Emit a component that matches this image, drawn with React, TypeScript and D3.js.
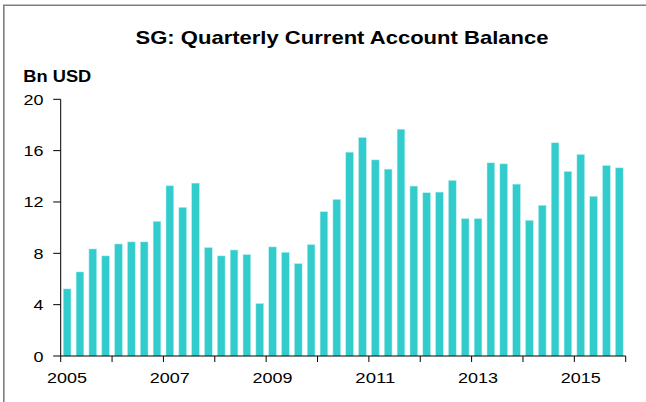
import React from "react";
import * as d3 from "d3";

const years = [2005, 2006, 2007, 2008, 2009, 2010, 2011, 2012, 2013, 2014, 2015];
const quarters = ["Q1", "Q2", "Q3", "Q4"];
const values = [
  5.23, 6.55, 8.34, 7.8,
  8.73, 8.89, 8.89, 10.49,
  13.26, 11.58, 13.47, 8.45,
  7.8, 8.26, 7.9, 4.09,
  8.5, 8.08, 7.2, 8.68,
  11.24, 12.2, 15.88, 17.02,
  15.28, 14.56, 17.67, 13.24,
  12.72, 12.77, 13.68, 10.7,
  10.7, 15.05, 14.97, 13.39,
  10.57, 11.74, 16.61, 14.38,
  15.7, 12.44, 14.84, 14.66,
];
const yTicks = [0, 4, 8, 12, 16, 20];
const xLabelYears = [2005, 2007, 2009, 2011, 2013, 2015];
const title = "SG: Quarterly Current Account Balance";
const unitLabel = "Bn USD";

const periods = years.flatMap((y) => quarters.map((q) => `${y}${q}`));
const data = periods.map((p, i) => ({ period: p, value: values[i] }));

export default function App() {
  const W = 646;
  const H = 402;
  const x0 = 60.7;
  const x1 = 625.7;
  const yBottom = 356;
  const yTop = 99.3;

  const x = d3.scaleBand<string>().domain(periods).range([x0, x1]).paddingInner(0.4).paddingOuter(0.2);
  const y = d3.scaleLinear().domain([0, 20]).range([yBottom, yTop]);
  const step = x.step();
  const yearBoundaries = [...years, years[years.length - 1] + 1].map((yr) => {
    const key = `${yr}Q1`;
    const pos = x(key);
    return pos === undefined ? x1 : pos - step * 0.2 - (x.padding() ? 0 : 0);
  });
  // boundaries: start of year = band start minus outer/inner padding half
  const boundaryOf = (i: number) => x0 + i * 4 * step;

  const font = "'Liberation Sans', Arial, sans-serif";

  return (
    <svg
      width={W}
      height={H}
      style={{ position: "absolute", left: 0, top: 0, background: "#fff" }}
      fontFamily={font}
    >
      <rect x={0} y={0} width={W} height={H} fill="#fff" />
      {/* frame */}
      <line x1={3.8} x2={3.8} y1={5.3} y2={H} stroke="#7f7f7f" strokeWidth={1.6} />
      <line x1={3} x2={W} y1={5.3} y2={5.3} stroke="#7f7f7f" strokeWidth={1.6} />

      {/* title */}
      <text x={342} y={44} textAnchor="middle" fontWeight="bold" fontSize={19} textLength={413} lengthAdjust="spacingAndGlyphs" fill="#000">
        {title}
      </text>
      <text x={23.3} y={81.7} fontWeight="bold" fontSize={17} textLength={68} lengthAdjust="spacingAndGlyphs" fill="#000">
        {unitLabel}
      </text>

      {/* bars */}
      {data.map((d) => (
        <rect
          key={d.period}
          x={x(d.period)}
          y={y(d.value)}
          width={x.bandwidth()}
          height={y(0) - y(d.value)}
          fill="#33CCCC"
          stroke="#b8eeee"
          strokeWidth={0.5}
        />
      ))}

      {/* y axis */}
      <line x1={x0} x2={x0} y1={yTop} y2={yBottom} stroke="#000" strokeWidth={1} />
      {yTicks.map((t) => (
        <g key={t}>
          <line x1={x0 - 7.5} x2={x0} y1={y(t)} y2={y(t)} stroke="#000" strokeWidth={1} />
          <text
            x={43.5}
            y={y(t) + 5.5}
            textAnchor="end"
            fontSize={15}
            textLength={String(t).length * 10}
            lengthAdjust="spacingAndGlyphs"
            fill="#000"
          >
            {t}
          </text>
        </g>
      ))}

      {/* x axis */}
      <line x1={x0} x2={x1} y1={yBottom} y2={yBottom} stroke="#000" strokeWidth={1} />
      {yearBoundaries.map((_, i) => (
        <line key={i} x1={boundaryOf(i)} x2={boundaryOf(i)} y1={yBottom} y2={yBottom + 6} stroke="#000" strokeWidth={1} />
      ))}
      {xLabelYears.map((yr) => {
        const key = `${yr}Q1`;
        const cx = (x(key) ?? 0) + x.bandwidth() / 2;
        return (
          <text key={yr} x={cx} y={383} textAnchor="middle" fontSize={15} textLength={40} lengthAdjust="spacingAndGlyphs" fill="#000">
            {yr}
          </text>
        );
      })}
    </svg>
  );
}
